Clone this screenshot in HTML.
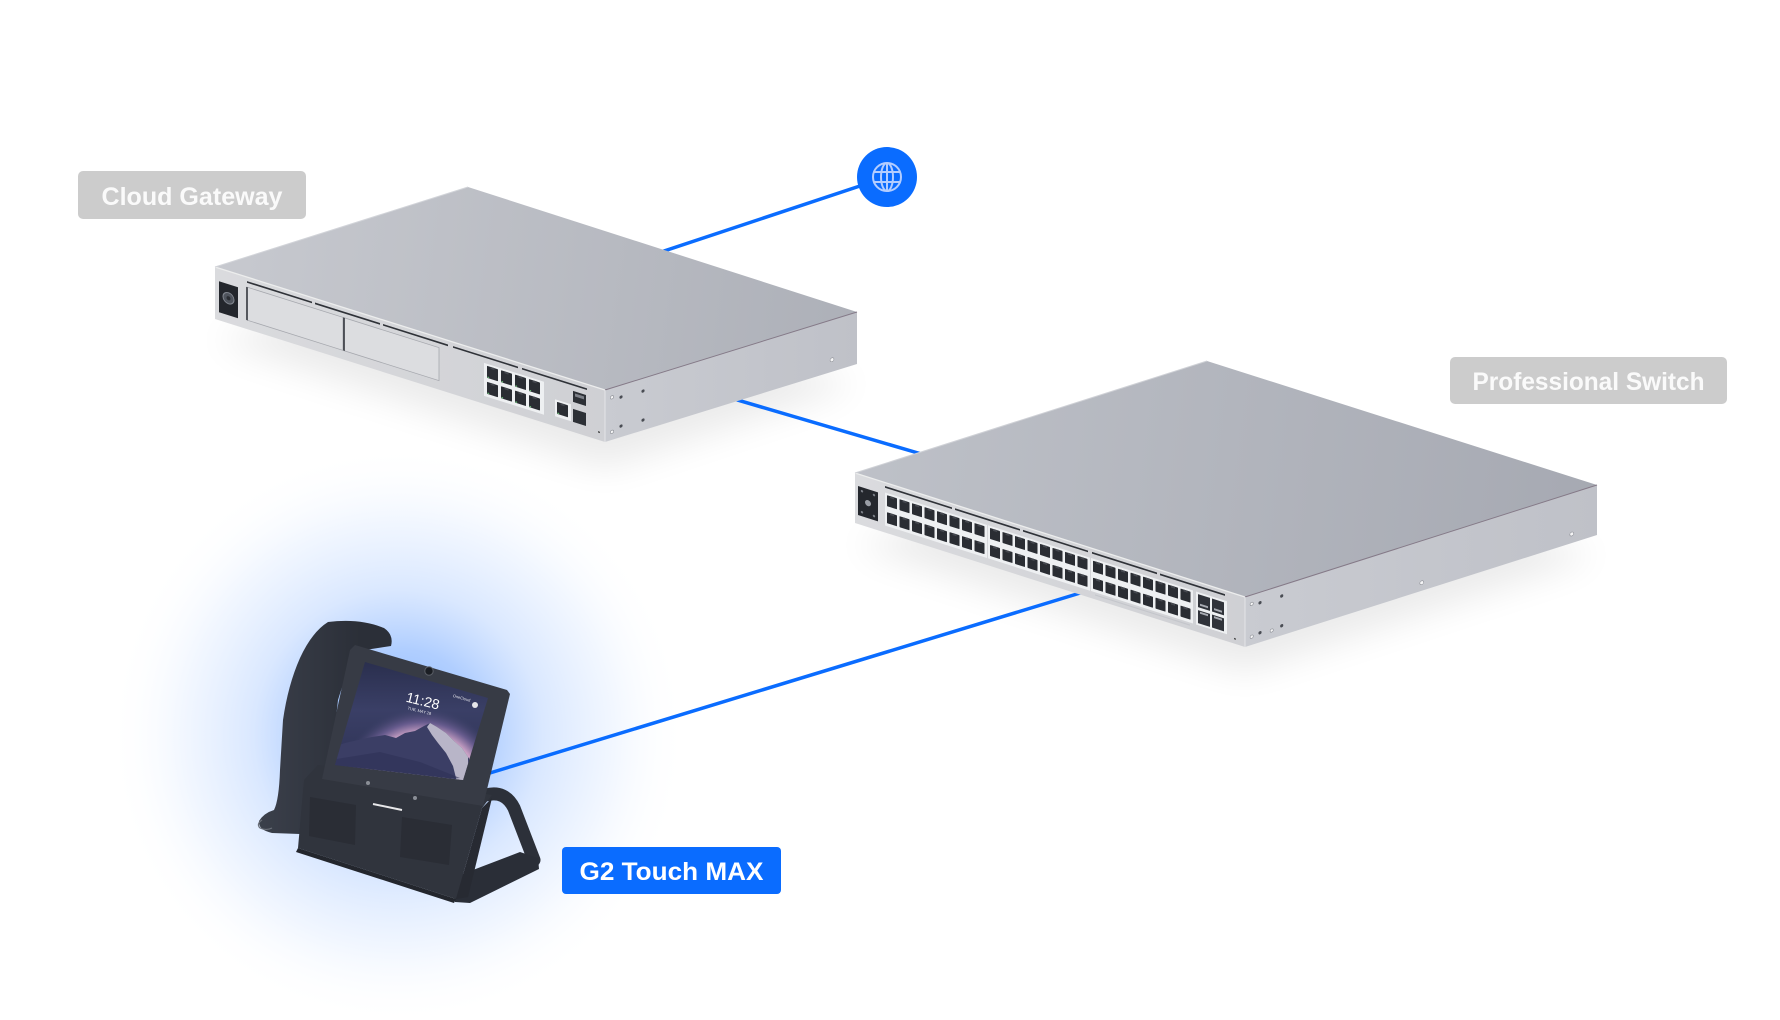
<!DOCTYPE html>
<html><head><meta charset="utf-8">
<style>
html,body{margin:0;padding:0;background:#fff;}
svg{display:block;}
text{font-family:"Liberation Sans",sans-serif;}
</style></head><body>
<svg width="1780" height="1020" viewBox="0 0 1780 1020" xmlns="http://www.w3.org/2000/svg">
<defs>
 <radialGradient id="glow" cx="398" cy="735" r="290" gradientUnits="userSpaceOnUse">
  <stop offset="0" stop-color="#7eb0ff" stop-opacity="0.95"/>
  <stop offset="0.3" stop-color="#a3c6ff" stop-opacity="0.85"/>
  <stop offset="0.5" stop-color="#cadeff" stop-opacity="0.7"/>
  <stop offset="0.75" stop-color="#eaf2ff" stop-opacity="0.6"/>
  <stop offset="1" stop-color="#ffffff" stop-opacity="0"/>
 </radialGradient>
 <filter id="blur" x="-30%" y="-30%" width="160%" height="160%"><feGaussianBlur stdDeviation="18"/></filter>
 <linearGradient id="gwTop" gradientUnits="userSpaceOnUse" x1="215" y1="240" x2="857" y2="330">
  <stop offset="0" stop-color="#c7c9cf"/><stop offset="1" stop-color="#adb0b8"/>
 </linearGradient>
 <linearGradient id="swTop" gradientUnits="userSpaceOnUse" x1="855" y1="420" x2="1597" y2="520">
  <stop offset="0" stop-color="#bec1c8"/><stop offset="1" stop-color="#a6a9b2"/>
 </linearGradient>
 <linearGradient id="front" x1="0" y1="0" x2="1" y2="0">
  <stop offset="0" stop-color="#dadbde"/><stop offset="1" stop-color="#cfd0d4"/>
 </linearGradient>
 <linearGradient id="side" x1="0" y1="0" x2="1" y2="0">
  <stop offset="0" stop-color="#c9cbd1"/><stop offset="1" stop-color="#bfc1c8"/>
 </linearGradient>
 <linearGradient id="scrBase" gradientUnits="userSpaceOnUse" x1="0" y1="662" x2="0" y2="782">
  <stop offset="0" stop-color="#2a2f4e"/><stop offset="0.4" stop-color="#3a3f66"/><stop offset="1" stop-color="#2c3052"/>
 </linearGradient>
 <radialGradient id="scrArc" cx="422" cy="792" r="85" gradientUnits="userSpaceOnUse">
  <stop offset="0" stop-color="#f4ecf2"/>
  <stop offset="0.55" stop-color="#ecd8e6"/>
  <stop offset="0.7" stop-color="#c79fc3"/>
  <stop offset="0.82" stop-color="#6d5f93" stop-opacity="0.9"/>
  <stop offset="1" stop-color="#3a3f66" stop-opacity="0"/>
 </radialGradient>
 <linearGradient id="hand" gradientUnits="userSpaceOnUse" x1="258" y1="0" x2="360" y2="0">
  <stop offset="0" stop-color="#3b404b"/><stop offset="1" stop-color="#2b2f38"/>
 </linearGradient>
 <clipPath id="scr"><polygon points="365,662 488,698 463,780 335,765"/></clipPath>
 <g id="p"><rect width="10" height="11" rx="0.6" fill="#2a2d33"/><rect x="3" y="0" width="4" height="2" fill="#45484f"/></g>
 <g id="gp"><rect width="11" height="12" rx="0.6" fill="#2a2d33"/><rect x="3.5" y="0" width="4" height="2" fill="#45484f"/><rect x="0.5" y="10.5" width="1.6" height="1.2" fill="#6cc27a"/></g>
</defs>

<rect width="1780" height="1020" fill="#ffffff"/>
<!-- glow -->
<rect x="0" y="380" width="760" height="640" fill="url(#glow)"/>

<!-- shadows -->
<polygon points="215,340 468,262 857,384 605,468" fill="#000" opacity="0.08" filter="url(#blur)"/>
<polygon points="855,545 1207,433 1597,555 1245,672" fill="#000" opacity="0.08" filter="url(#blur)"/>

<!-- connectors -->
<g stroke="#0a6cff" stroke-width="3.5" fill="none" stroke-linecap="round">
 <line x1="887" y1="177" x2="640" y2="259"/>
 <line x1="700" y1="389" x2="935" y2="458"/>
 <line x1="1090" y1="590" x2="480" y2="776"/>
</g>

<!-- globe -->
<circle cx="887" cy="177" r="30" fill="#0a6cff"/>
<g stroke="#b3cdff" stroke-width="2" fill="none">
 <circle cx="887" cy="177" r="14"/>
 <ellipse cx="887" cy="177" rx="6" ry="14"/>
 <line x1="887" y1="163" x2="887" y2="191"/>
 <line x1="874" y1="172" x2="900" y2="172"/>
 <line x1="874" y1="182" x2="900" y2="182"/>
</g>

<!-- ===== Cloud Gateway ===== -->
<polygon points="215,267 468,187 857,312 605,390" fill="url(#gwTop)"/>
<polygon points="215,267 605,390 605,442 215,319" fill="url(#front)"/>
<polygon points="605,390 857,312 857,364 605,442" fill="url(#side)"/>
<line x1="215" y1="267" x2="605" y2="390" stroke="#eceded" stroke-width="1.3"/>
<line x1="605" y1="390" x2="857" y2="312" stroke="#857a88" stroke-width="1"/>
<line x1="605" y1="390" x2="605" y2="442" stroke="#e4e5e8" stroke-width="1"/>
<line x1="215" y1="267" x2="468" y2="187" stroke="#d2d4d9" stroke-width="1"/>
<g transform="matrix(1,0.3154,0,1,215,267)">
 <g fill="#2f3238">
  <rect x="32" y="4" width="65" height="1.7"/>
  <rect x="100" y="4" width="65" height="1.7"/>
  <rect x="168" y="4" width="65" height="1.7"/>
  <rect x="238" y="4" width="65" height="1.7"/>
  <rect x="307" y="4" width="65" height="1.7"/>
 </g>
 <rect x="4" y="13" width="19" height="31" fill="#23262c"/>
 <circle cx="13.5" cy="27" r="5.5" fill="#4f545d" stroke="#80858e" stroke-width="1"/>
 <circle cx="13.5" cy="27" r="2" fill="#2a2d33"/>
 <rect x="32" y="10" width="96" height="33" fill="#dcdde0" stroke="#a6a8ae" stroke-width="0.8"/>
 <rect x="129" y="10" width="95" height="33" fill="#dcdde0" stroke="#a6a8ae" stroke-width="0.8"/>
 <line x1="32" y1="10" x2="32" y2="43" stroke="#33363d" stroke-width="1.6"/>
 <line x1="129" y1="10" x2="129" y2="43" stroke="#33363d" stroke-width="1.6"/>
 <rect x="269" y="11" width="60" height="33" fill="#eef0f2"/>
 <use href="#gp" x="272" y="13"/><use href="#gp" x="286" y="13"/><use href="#gp" x="300" y="13"/><use href="#gp" x="314" y="13"/>
 <use href="#gp" x="272" y="29"/><use href="#gp" x="286" y="29"/><use href="#gp" x="300" y="29"/><use href="#gp" x="314" y="29"/>
 <rect x="340" y="25" width="16" height="17" fill="#eef0f2"/>
 <use href="#gp" x="342" y="27"/>
 <rect x="358" y="11" width="13" height="11" fill="#2d3036"/>
 <rect x="360" y="13" width="9" height="3" fill="#7d8088"/>
 <rect x="358" y="29" width="13" height="13" fill="#2d3036"/>
 <circle cx="384" cy="44" r="0.9" fill="#333"/>
</g>
<g transform="matrix(1,-0.3095,0,1,605,390)">
 <circle cx="7" cy="9.5" r="1.6" fill="#f5f5f6" stroke="#8d9096" stroke-width="0.6"/>
 <circle cx="16" cy="12" r="1.6" fill="#4a4d54"/>
 <circle cx="38" cy="12.8" r="1.6" fill="#4a4d54"/>
 <circle cx="7" cy="44" r="1.6" fill="#f5f5f6" stroke="#8d9096" stroke-width="0.6"/>
 <circle cx="16" cy="41" r="1.6" fill="#4a4d54"/>
 <circle cx="38" cy="41.8" r="1.6" fill="#4a4d54"/>
 <circle cx="227" cy="40" r="1.9" fill="#f5f5f6" stroke="#8d9096" stroke-width="0.6"/>
</g>

<!-- ===== Professional Switch ===== -->
<polygon points="855,473 1207,361 1597,485 1245,597" fill="url(#swTop)"/>
<polygon points="855,473 1245,597 1245,647 855,523" fill="url(#front)"/>
<polygon points="1245,597 1597,485 1597,535 1245,647" fill="url(#side)"/>
<line x1="855" y1="473" x2="1245" y2="597" stroke="#eceded" stroke-width="1.3"/>
<line x1="1245" y1="597" x2="1597" y2="485" stroke="#857a88" stroke-width="1"/>
<line x1="1245" y1="597" x2="1245" y2="647" stroke="#e4e5e8" stroke-width="1"/>
<line x1="855" y1="473" x2="1207" y2="361" stroke="#cfd1d6" stroke-width="1"/>
<g transform="matrix(1,0.318,0,1,855,473)">
 <g fill="#2f3238">
  <rect x="30" y="3.5" width="67" height="1.7"/>
  <rect x="100" y="3.5" width="65" height="1.7"/>
  <rect x="168" y="3.5" width="65" height="1.7"/>
  <rect x="237" y="3.5" width="65" height="1.7"/>
  <rect x="305" y="3.5" width="65" height="1.7"/>
 </g>
 <rect x="3" y="12" width="20" height="29" fill="#24272d"/>
 <circle cx="13" cy="26" r="3" fill="#9a9ea6"/>
 <g fill="#7a7e86"><circle cx="7" cy="16" r="1.2"/><circle cx="19" cy="16" r="1.2"/><circle cx="7" cy="37" r="1.2"/><circle cx="19" cy="37" r="1.2"/></g>
 <rect x="30" y="10" width="102" height="33" fill="#eef0f2"/>
 <rect x="133" y="10" width="102" height="33" fill="#eef0f2"/>
 <rect x="236" y="10" width="102" height="33" fill="#eef0f2"/>
 <use href="#p" x="32" y="12"/><use href="#p" x="44.5" y="12"/><use href="#p" x="57" y="12"/><use href="#p" x="69.5" y="12"/><use href="#p" x="82" y="12"/><use href="#p" x="94.5" y="12"/><use href="#p" x="107" y="12"/><use href="#p" x="119.5" y="12"/>
 <use href="#p" x="32" y="29"/><use href="#p" x="44.5" y="29"/><use href="#p" x="57" y="29"/><use href="#p" x="69.5" y="29"/><use href="#p" x="82" y="29"/><use href="#p" x="94.5" y="29"/><use href="#p" x="107" y="29"/><use href="#p" x="119.5" y="29"/>
 <use href="#p" x="135" y="12"/><use href="#p" x="147.5" y="12"/><use href="#p" x="160" y="12"/><use href="#p" x="172.5" y="12"/><use href="#p" x="185" y="12"/><use href="#p" x="197.5" y="12"/><use href="#p" x="210" y="12"/><use href="#p" x="222.5" y="12"/>
 <use href="#p" x="135" y="29"/><use href="#p" x="147.5" y="29"/><use href="#p" x="160" y="29"/><use href="#p" x="172.5" y="29"/><use href="#p" x="185" y="29"/><use href="#p" x="197.5" y="29"/><use href="#p" x="210" y="29"/><use href="#p" x="222.5" y="29"/>
 <use href="#p" x="238" y="12"/><use href="#p" x="250.5" y="12"/><use href="#p" x="263" y="12"/><use href="#p" x="275.5" y="12"/><use href="#p" x="288" y="12"/><use href="#p" x="300.5" y="12"/><use href="#p" x="313" y="12"/><use href="#p" x="325.5" y="12"/>
 <use href="#p" x="238" y="29"/><use href="#p" x="250.5" y="29"/><use href="#p" x="263" y="29"/><use href="#p" x="275.5" y="29"/><use href="#p" x="288" y="29"/><use href="#p" x="300.5" y="29"/><use href="#p" x="313" y="29"/><use href="#p" x="325.5" y="29"/>
 <rect x="341" y="10" width="31" height="33" fill="#eef0f2"/>
 <g fill="#30333a">
  <rect x="343" y="12" width="12" height="13"/><rect x="357" y="12" width="12" height="13"/>
  <rect x="343" y="28" width="12" height="13"/><rect x="357" y="28" width="12" height="13"/>
 </g>
 <g fill="#a8abb2">
  <rect x="345" y="21" width="8" height="2"/><rect x="359" y="21" width="8" height="2"/>
  <rect x="345" y="29" width="8" height="2"/><rect x="359" y="29" width="8" height="2"/>
 </g>
 <rect x="240" y="45" width="95" height="1.2" fill="#c4c6cb"/>
 <circle cx="380" cy="45" r="0.9" fill="#333"/>
</g>
<g transform="matrix(1,-0.318,0,1,1245,597)">
 <circle cx="6.7" cy="9" r="1.6" fill="#f5f5f6" stroke="#8d9096" stroke-width="0.6"/>
 <circle cx="15" cy="10.5" r="1.6" fill="#4a4d54"/>
 <circle cx="36.7" cy="10.7" r="1.6" fill="#4a4d54"/>
 <circle cx="6.7" cy="41.8" r="1.6" fill="#f5f5f6" stroke="#8d9096" stroke-width="0.6"/>
 <circle cx="15" cy="40.5" r="1.6" fill="#4a4d54"/>
 <circle cx="26.7" cy="42" r="1.6" fill="#f5f5f6" stroke="#8d9096" stroke-width="0.6"/>
 <circle cx="36.7" cy="40.4" r="1.6" fill="#4a4d54"/>
 <circle cx="176.7" cy="41.9" r="1.9" fill="#f5f5f6" stroke="#8d9096" stroke-width="0.6"/>
 <circle cx="326.7" cy="40.9" r="1.9" fill="#f5f5f6" stroke="#8d9096" stroke-width="0.6"/>
</g>

<!-- ===== Phone ===== -->
<!-- stand arm + foot -->
<path d="M486,795 Q505,790 514,808 L534,860" stroke="#2c3039" stroke-width="13" fill="none" stroke-linecap="round"/>
<polygon points="452,878 520,852 538,858 539,869 470,903 455,902" fill="#2a2e37"/>
<!-- handset -->
<path d="M328,622 Q360,618 384,628 Q394,635 391,646 L365,650 Q348,665 338,700 L328,790 Q320,825 300,834 L272,833 Q258,830 259,821 Q264,813 274,810 Q279,800 280,770 L283,720 Q288,685 300,658 Q312,632 328,622 Z" fill="url(#hand)"/>
<path d="M262,820 q-6,4 -2,8 q6,3 12,0" stroke="#6a6f78" stroke-width="1.2" fill="none"/>
<!-- body -->
<polygon points="318,765 492,795 482,808 456,899 298,848 304,780" fill="#30343d"/>
<polygon points="482,808 492,798 468,897 456,899" fill="#272a32"/>
<polygon points="310,797 356,805 355,845 309,836" fill="#2a2d35"/>
<polygon points="402,817 452,825 449,865 400,857" fill="#2a2d35"/>
<polygon points="298,848 456,899 454,903 296,852" fill="#23262d"/>
<!-- bezel -->
<polygon points="355,645 507,690 510,694 483,806 322,779 350,650" fill="#373b45"/>
<!-- screen -->
<g clip-path="url(#scr)">
 <rect x="330" y="655" width="165" height="130" fill="url(#scrBase)"/>
 <rect x="330" y="655" width="165" height="130" fill="url(#scrArc)"/>
 <polygon points="330,748 345,743 358,740 372,737 385,735 396,738 405,733 415,731 424,726 430,723 437,727 446,733 454,741 462,748 470,760 470,790 330,790" fill="#3b3e65"/>
 <polygon points="430,723 437,727 446,733 454,741 462,748 468,757 468,785 457,782 453,766 446,753 438,743 432,735 427,727" fill="#cfcad9" opacity="0.85"/>
 <polygon points="330,760 380,752 420,762 460,778 330,790" fill="#2f3256" opacity="0.6"/>
 <text x="406" y="705" font-size="14" fill="#ffffff" transform="rotate(14 420 700)">11:28</text>
 <text x="410" y="712" font-size="4" fill="#e0e0e8" transform="rotate(14 420 700)">TUE, MAY 28</text>
 <text x="452" y="699" font-size="4" fill="#e0e0e8" transform="rotate(16 460 700)">OneCloud</text>
 <circle cx="475" cy="705" r="3" fill="#e6e6ea"/>
</g>
<circle cx="429" cy="671" r="4.2" fill="#1b1e24" stroke="#5a5e66" stroke-width="1"/>
<circle cx="368" cy="783" r="2" fill="#8a8e96"/>
<circle cx="415" cy="798" r="2" fill="#8a8e96"/>
<line x1="373" y1="804" x2="402" y2="810" stroke="#e8e8ea" stroke-width="2"/>

<!-- ===== Labels ===== -->
<rect x="78" y="171" width="228" height="48" rx="5" fill="#cccccc"/>
<text x="192" y="205" font-size="25" font-weight="bold" fill="#fafafa" text-anchor="middle" textLength="181" lengthAdjust="spacingAndGlyphs">Cloud Gateway</text>

<rect x="1450" y="357" width="277" height="47" rx="5" fill="#cccccc"/>
<text x="1588.5" y="390" font-size="25" font-weight="bold" fill="#fafafa" text-anchor="middle" textLength="232" lengthAdjust="spacingAndGlyphs">Professional Switch</text>

<rect x="562" y="847" width="219" height="47" rx="4" fill="#0a6cff"/>
<text x="671.5" y="880" font-size="25" font-weight="bold" fill="#ffffff" text-anchor="middle" textLength="184" lengthAdjust="spacingAndGlyphs">G2 Touch MAX</text>
</svg>
</body></html>
